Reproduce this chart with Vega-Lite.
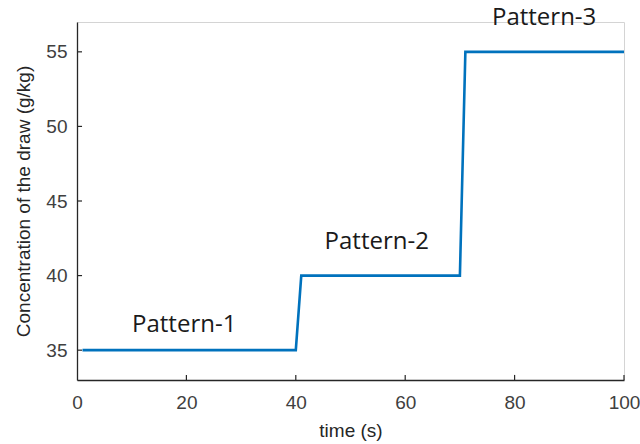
{
  "$schema": "https://vega.github.io/schema/vega-lite/v6.json",
  "width": 547,
  "height": 358,
  "autosize": {"type": "none"},
  "padding": {"left": 77, "top": 22, "right": 16, "bottom": 64},
  "background": "white",
  "config": {
    "view": {"stroke": "#d4d4d4", "strokeWidth": 1},
    "axis": {
      "domainColor": "#262626",
      "domainWidth": 1.3,
      "ticks": false,
      "grid": false,
      "labelFont": "Liberation Sans",
      "labelFontSize": 19,
      "labelColor": "#404040",
      "titleFont": "Liberation Sans",
      "titleFontSize": 19,
      "titleFontWeight": "normal",
      "titleColor": "#262626"
    }
  },
  "layer": [
    {
      "data": {
        "values": [
          {"t": 1, "c": 35},
          {"t": 40, "c": 35},
          {"t": 41, "c": 40},
          {"t": 70, "c": 40},
          {"t": 71, "c": 55},
          {"t": 100, "c": 55}
        ]
      },
      "mark": {"type": "line", "color": "#0072BD", "strokeWidth": 2.6, "clip": false},
      "encoding": {
        "x": {
          "field": "t", "type": "quantitative",
          "scale": {"domain": [0, 100], "nice": false, "zero": false},
          "axis": {"values": [0, 20, 40, 60, 80, 100], "title": "time (s)", "labelPadding": 13, "labelFlush": false, "titlePadding": 9}
        },
        "y": {
          "field": "c", "type": "quantitative",
          "scale": {"domain": [33, 57], "nice": false, "zero": false},
          "axis": {"values": [35, 40, 45, 50, 55], "title": "Concentration of the draw (g/kg)", "labelPadding": 10, "titlePadding": 12}
        }
      }
    },
    {
      "data": {
        "values": [
          {"t": 20, "c0": 33, "c1": 33.34},
          {"t": 40, "c0": 33, "c1": 33.34},
          {"t": 60, "c0": 33, "c1": 33.34},
          {"t": 80, "c0": 33, "c1": 33.34},
          {"t": 100, "c0": 33, "c1": 33.34}
        ]
      },
      "mark": {"type": "rule", "color": "#262626", "strokeWidth": 1.2},
      "encoding": {
        "x": {"field": "t", "type": "quantitative"},
        "y": {"field": "c0", "type": "quantitative"},
        "y2": {"field": "c1"}
      }
    },
    {
      "data": {
        "values": [
          {"c": 35, "t0": 0, "t1": 0.92},
          {"c": 40, "t0": 0, "t1": 0.92},
          {"c": 45, "t0": 0, "t1": 0.92},
          {"c": 50, "t0": 0, "t1": 0.92},
          {"c": 55, "t0": 0, "t1": 0.92}
        ]
      },
      "mark": {"type": "rule", "color": "#262626", "strokeWidth": 1.2},
      "encoding": {
        "y": {"field": "c", "type": "quantitative"},
        "x": {"field": "t0", "type": "quantitative"},
        "x2": {"field": "t1"}
      }
    },
    {
      "data": {
        "values": [
          {"t": 19.6, "c": 36.7, "label": "Pattern-1"},
          {"t": 54.8, "c": 42.25, "label": "Pattern-2"},
          {"t": 85.4, "c": 57.3, "label": "Pattern-3"}
        ]
      },
      "mark": {"type": "text", "font": "Open Sans", "fontSize": 24, "color": "#1a1a1a", "align": "center", "baseline": "middle", "clip": false},
      "encoding": {
        "x": {"field": "t", "type": "quantitative"},
        "y": {"field": "c", "type": "quantitative"},
        "text": {"field": "label"}
      }
    }
  ]
}
